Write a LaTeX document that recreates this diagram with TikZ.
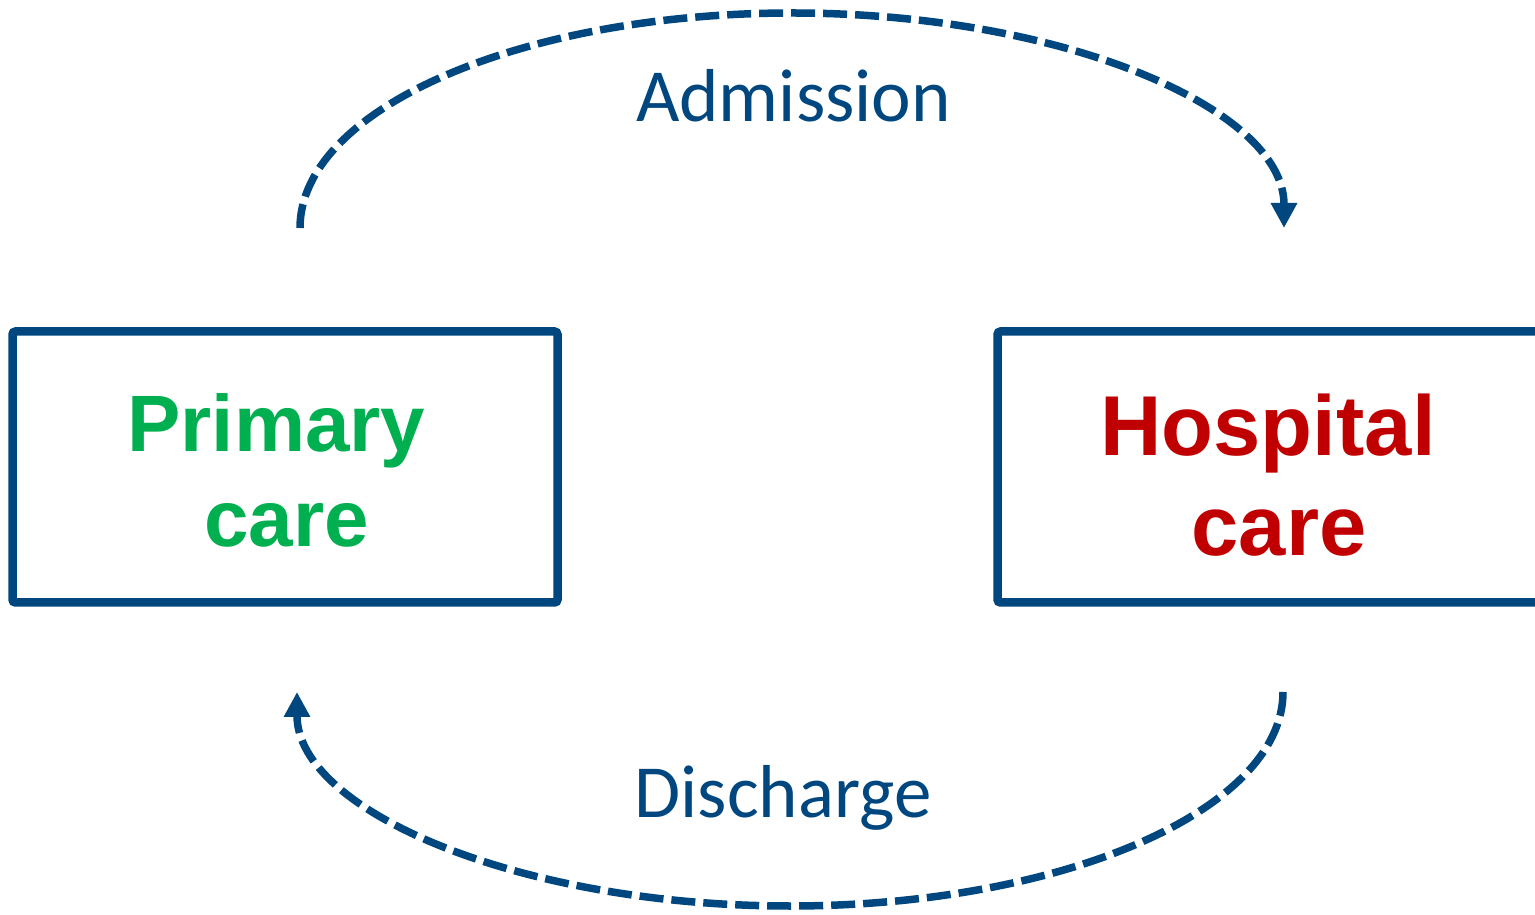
\documentclass[tikz,border=0pt]{standalone}
\usepackage{fontspec}
\setmainfont{Liberation Sans}
\newfontfamily\labelfont{Carlito}
\usetikzlibrary{arrows.meta}
\definecolor{navy}{RGB}{0,71,127}
\definecolor{pgreen}{RGB}{0,176,80}
\definecolor{hred}{RGB}{192,0,0}
\tikzset{
  carebox/.style={draw=navy, line width=8.5pt, rounded corners=3pt, inner sep=0pt},
  flow/.style={draw=navy, line width=7.5pt, dash pattern=on 24pt off 8pt, -{Triangle[length=25pt,width=25pt]}},
  greentext/.style={text=pgreen, font=\fontsize{80}{80}\selectfont\bfseries, anchor=base, inner sep=0pt},
  redtext/.style={text=hred, font=\fontsize{85}{85}\selectfont\bfseries, anchor=base, inner sep=0pt},
  flowlabel/.style={text=navy, font=\labelfont\fontsize{75}{75}\selectfont, anchor=base, inner sep=0pt}
}
\begin{document}
\begin{tikzpicture}[x=1pt,y=1pt]
\useasboundingbox (0,0) rectangle (1535,914);
% boxes
\node[carebox, minimum width=545pt, minimum height=271pt] (primary) at (285,447) {};
\node[carebox, minimum width=563pt, minimum height=271pt] (hospital) at (1279,447) {};
% box texts
\node[greentext] (p1) at (276.5,462) {Primary};
\node[greentext] (p2) at (286.5,367) {care};
\node[redtext] (h1) at (1268,458) {Hospital};
\node[redtext] (h2) at (1279,358) {care};
% arc end points
\coordinate (aStart) at (300,686);
\coordinate (dStart) at (1283,222);
% arrows
\draw[flow] (aStart) arc[start angle=180, end angle=0, x radius=492, y radius=215] coordinate (aEnd);
\draw[flow] (dStart) arc[start angle=0, end angle=-180, x radius=493, y radius=214] coordinate (dEnd);
% labels
\node[flowlabel] (adm) at (793.5,792) {Admission};
\node[flowlabel] (dis) at (783,97) {Discharge};
\end{tikzpicture}
\end{document}
